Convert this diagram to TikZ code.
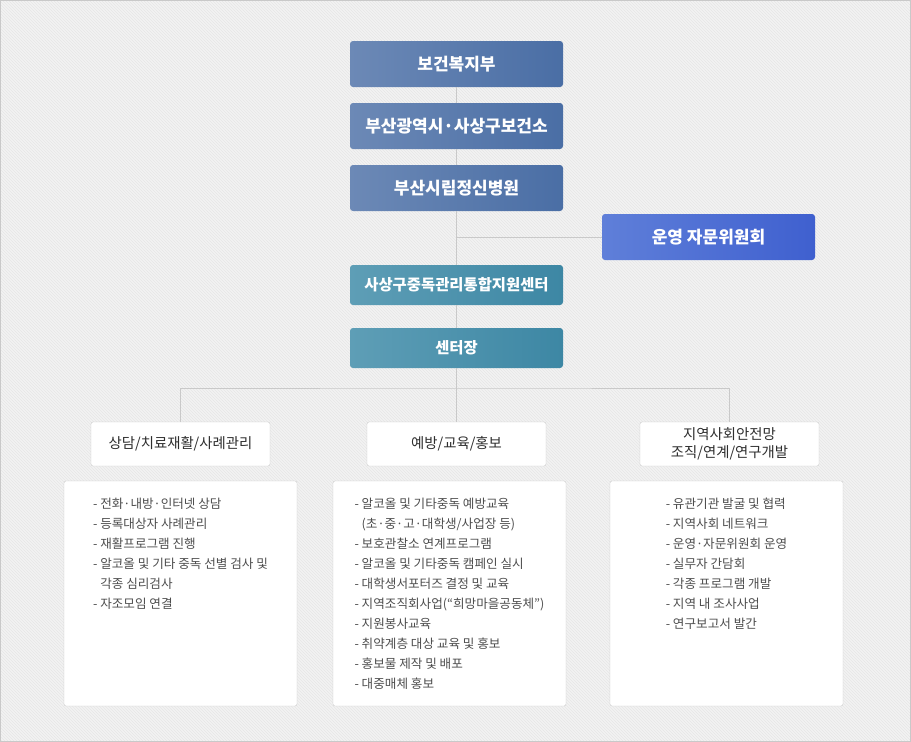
\documentclass[tikz,border=0pt]{standalone}
\usepackage{fontspec}
\setmainfont{Noto Sans CJK KR}
\usepackage{tikz}
\usetikzlibrary{positioning,patterns}

\definecolor{bluedark}{HTML}{4A6EA5}
\definecolor{bluelight}{HTML}{6C89B6}
\definecolor{boarddark}{HTML}{3F60CF}
\definecolor{boardlight}{HTML}{5F7FD9}
\definecolor{tealdark}{HTML}{3D87A4}
\definecolor{teallight}{HTML}{5E9EB6}
\definecolor{linegray}{HTML}{C9C9C9}
\definecolor{bggray}{HTML}{F3F3F3}
\definecolor{bgline}{HTML}{E6E6E6}
\definecolor{textgray}{HTML}{4D4D4D}
\definecolor{deptgray}{HTML}{2E2E2E}

\newcommand{\indentitem}{\hphantom{- }}

\begin{document}
\begin{tikzpicture}[x=1pt,y=-1pt,
        bluenode/.style={rectangle, rounded corners=3pt, left color=bluelight, right color=bluedark,
          text=white, font=\fontsize{17}{19}\selectfont\bfseries, minimum width=213pt, minimum height=46pt,
          inner sep=0pt, outer sep=0pt},
        boardnode/.style={bluenode, left color=boardlight, right color=boarddark},
        tealnode/.style={bluenode, left color=teallight, right color=tealdark,
          font=\fontsize{15.4}{17}\selectfont\bfseries, minimum height=40pt},
        deptnode/.style={rectangle, rounded corners=2pt, draw=linegray, fill=white, text=deptgray,
          font=\fontsize{14.4}{18}\selectfont, align=center, minimum width=179pt, minimum height=44pt,
          inner sep=0pt, outer sep=0pt},
        listnode/.style={rectangle, rounded corners=2pt, draw=linegray, fill=white,
          minimum width=233pt, minimum height=225pt, inner sep=0pt, outer sep=0pt},
        itemtext/.style={align=left, text=textgray, font=\fontsize{12.6}{20}\selectfont, inner sep=0pt},
        link/.style={draw=linegray, line width=1pt},
      ]
      % Background
      \fill[bggray] (0,0) rectangle (911,742);
      \fill[pattern=north west lines, pattern color=bgline] (0,0) rectangle (911,742);
      \draw[linegray, line width=1pt] (0.5,0.5) rectangle (910.5,741.5);
      \useasboundingbox (0,0) rectangle (911,742);

      % Nodes
      \node[bluenode] (ministry) at (456.5,64) {보건복지부};
      \node[bluenode] (health_center) [below=16pt of ministry] {부산광역시·사상구보건소};
      \node[bluenode] (city_hospital) [below=16pt of health_center] {부산시립정신병원};
      \node[boardnode] (advisory_board) [below right=3pt and 39pt of city_hospital.south east] {운영 자문위원회};

      \node[tealnode] (support_center) [below=54pt of city_hospital] {사상구중독관리통합지원센터};
      \node[tealnode] (director) [below=23pt of support_center] {센터장};
      \coordinate[below=20pt of director] (fork);

      \node[deptnode] (prevention_team) [below=54pt of director] {예방/교육/홍보};
      \node[deptnode] (counsel_team) [left=97pt of prevention_team] {상담/치료재활/사례관리};
      \node[deptnode] (network_team) [right=94pt of prevention_team] {지역사회안전망\\조직/연계/연구개발};

      \node[listnode] (counsel_list) [below=15pt of counsel_team] {};
      \node[listnode] (prevention_list) [below=15pt of prevention_team, xshift=-7pt] {};
      \node[listnode] (network_list) [below=15pt of network_team, xshift=-3pt] {};

      \node[itemtext, below=17pt of counsel_list.north] (counsel_items) {%
        - 전화·내방·인터넷 상담\\
        - 등록대상자 사례관리\\
        - 재활프로그램 진행\\
        - 알코올 및 기타 중독 선별 검사 및\\
        \indentitem 각종 심리검사\\
        - 자조모임 연결};
      \node[itemtext, below=17pt of prevention_list.north] (prevention_items) {%
        - 알코올 및 기타중독 예방교육\\
        \indentitem(초·중·고·대학생/사업장 등)\\
        - 보호관찰소 연계프로그램\\
        - 알코올 및 기타중독 캠페인 실시\\
        - 대학생서포터즈 결정 및 교육\\
        - 지역조직회사업(“희망마을공동체”)\\
        - 지원봉사교육\\
        - 취약계층 대상 교육 및 홍보\\
        - 홍보물 제작 및 배포\\
        - 대중매체 홍보};
      \node[itemtext, below=17pt of network_list.north] (network_items) {%
        - 유관기관 발굴 및 협력\\
        - 지역사회 네트워크\\
        - 운영·자문위원회 운영\\
        - 실무자 간담회\\
        - 각종 프로그램 개발\\
        - 지역 내 조사사업\\
        - 연구보고서 발간};

      % Lines
      \draw[link] (ministry) -- (health_center);
      \draw[link] (health_center) -- (city_hospital);
      \draw[link] (city_hospital) -- (support_center);
      \draw[link] (advisory_board.west) -- (advisory_board.west -| city_hospital.south);
      \draw[link] (support_center) -- (director);
      \draw[link] (director) -- (fork);
      \draw[link] (counsel_team.north) |- (fork) -| (network_team.north);
      \draw[link] (fork) -- (prevention_team);
    \end{tikzpicture}
\end{document}
